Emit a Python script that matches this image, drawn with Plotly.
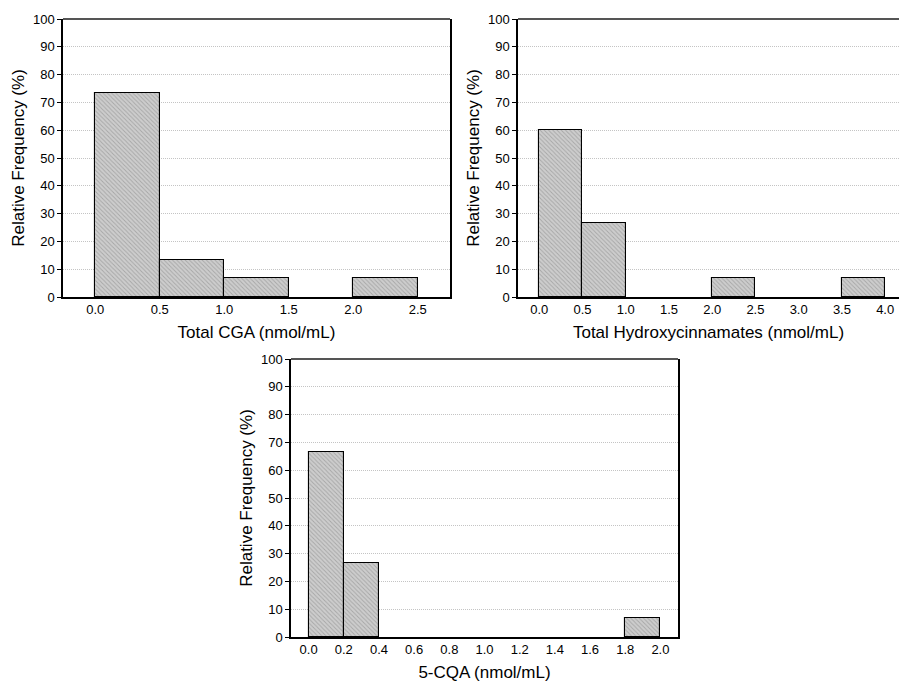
import plotly.graph_objects as go

# ---- data ----
cga_bin_start = [0.0, 0.5, 1.0, 1.5, 2.0]
cga_freq = [73.33, 13.33, 6.67, 0.0, 6.67]

hc_bin_start = [0.0, 0.5, 1.0, 1.5, 2.0, 2.5, 3.0, 3.5]
hc_freq = [60.0, 26.67, 0.0, 0.0, 6.67, 0.0, 0.0, 6.67]

cqa_bin_start = [0.0, 0.2, 0.4, 0.6, 0.8, 1.0, 1.2, 1.4, 1.6, 1.8]
cqa_freq = [66.67, 26.67, 0, 0, 0, 0, 0, 0, 0, 6.67]

cga_ticks = [0.0, 0.5, 1.0, 1.5, 2.0, 2.5]
hc_ticks = [0.0, 0.5, 1.0, 1.5, 2.0, 2.5, 3.0, 3.5, 4.0]
cqa_ticks = [0.0, 0.2, 0.4, 0.6, 0.8, 1.0, 1.2, 1.4, 1.6, 1.8, 2.0]
y_ticks = [0, 10, 20, 30, 40, 50, 60, 70, 80, 90, 100]

x_titles = ["Total CGA (nmol/mL)", "Total Hydroxycinnamates (nmol/mL)", "5-CQA (nmol/mL)"]
y_title = "Relative Frequency (%)"

W, H = 899, 684
FONT = "Liberation Sans, Arial, sans-serif"
TICKF = dict(size=13, color="black", family=FONT)
TITLEF = dict(size=17, color="black", family=FONT)

fig = go.Figure()

# (starts, freq, bin width, xaxis, yaxis, x range, x ticks, x px, y px, title, right border)
panels = [
    (cga_bin_start, cga_freq, 0.5, "x", "y", [-0.25, 2.75], cga_ticks, [63, 450], [19, 297], x_titles[0], True),
    (hc_bin_start, hc_freq, 0.5, "x2", "y2", [-0.245, 4.16], hc_ticks, [518, 899], [19, 297], x_titles[1], False),
    (cqa_bin_start, cqa_freq, 0.2, "x3", "y3", [-0.1, 2.1], cqa_ticks, [291, 678], [359, 637], x_titles[2], True),
]

layout = dict(
    width=W, height=H,
    margin=dict(l=0, r=0, t=0, b=0),
    paper_bgcolor="white", plot_bgcolor="white",
    bargap=0, showlegend=False,
)
shapes = []

for i, (starts, freq, w, xa, ya, xr, xt, xpx, ypx, xtitle, rb) in enumerate(panels):
    fig.add_trace(go.Bar(
        x=[s + w / 2 for s in starts], y=[v if v else None for v in freq], width=w,
        xaxis=xa, yaxis=ya,
        marker=dict(color="#c8c8c8",
                    line=dict(color="black", width=1.1),
                    pattern=dict(shape="\\", fgcolor="#7f7f7f", bgcolor="#cdcdcd",
                                 size=3, solidity=0.3)),
        showlegend=False, hoverinfo="skip",
    ))
    xdom = [xpx[0] / W, min(1, xpx[1] / W)]
    ydom = [1 - ypx[1] / H, 1 - ypx[0] / H]
    n = "" if i == 0 else str(i + 1)
    xk, yk = "xaxis" + n, "yaxis" + n
    layout[xk] = dict(domain=xdom, range=xr, tickvals=xt,
                      ticktext=[f"{t:.1f}" for t in xt],
                      showgrid=False, zeroline=False, automargin=False,
                      showline=True, linecolor="black", linewidth=1.5, mirror=False,
                      ticks="", tickfont=TICKF, ticklabeloverflow="allow",
                      title=dict(text=xtitle, font=TITLEF, standoff=10),
                      anchor=ya, fixedrange=True)
    layout[yk] = dict(domain=ydom, range=[0, 100], tickvals=y_ticks,
                      showgrid=True, gridcolor="#c4c4c4", griddash="1px,1px", gridwidth=1,
                      zeroline=False, showline=True, linecolor="black", linewidth=1.5,
                      mirror=rb,
                      ticks="outside", ticklen=4, tickcolor="black", automargin=False,
                      tickfont=TICKF,
                      title=dict(text=y_title, font=TITLEF, standoff=4),
                      anchor=xa, fixedrange=True)
    # mirrored inside ticks (top and right)
    ox = "xaxis" + str(4 + i)
    oy = "yaxis" + str(4 + i)
    layout[ox] = dict(domain=xdom, range=xr, tickvals=xt, overlaying=xa, side="top",
                      anchor=ya, ticks="inside", ticklen=3, tickcolor="black",
                      showticklabels=False, showgrid=False, zeroline=False,
                      showline=False, automargin=False, fixedrange=True)
    if rb:
        layout[oy] = dict(domain=ydom, range=[0, 100], tickvals=y_ticks, overlaying=ya, side="right",
                          anchor=xa, ticks="inside", ticklen=3, tickcolor="black",
                          showticklabels=False, showgrid=False, zeroline=False,
                          showline=False, automargin=False, fixedrange=True)
    # darker, thicker top border as in the reference
    shapes.append(dict(type="line", xref=xa + " domain", yref=ya + " domain",
                       x0=0, x1=1, y0=1, y1=1, line=dict(color="#555555", width=2)))

layout["shapes"] = shapes
fig.update_layout(**layout)

fig.write_html("out.html",
               config=dict(displayModeBar=False),
               post_script="document.body.style.margin='0';document.body.style.overflow='hidden';")
